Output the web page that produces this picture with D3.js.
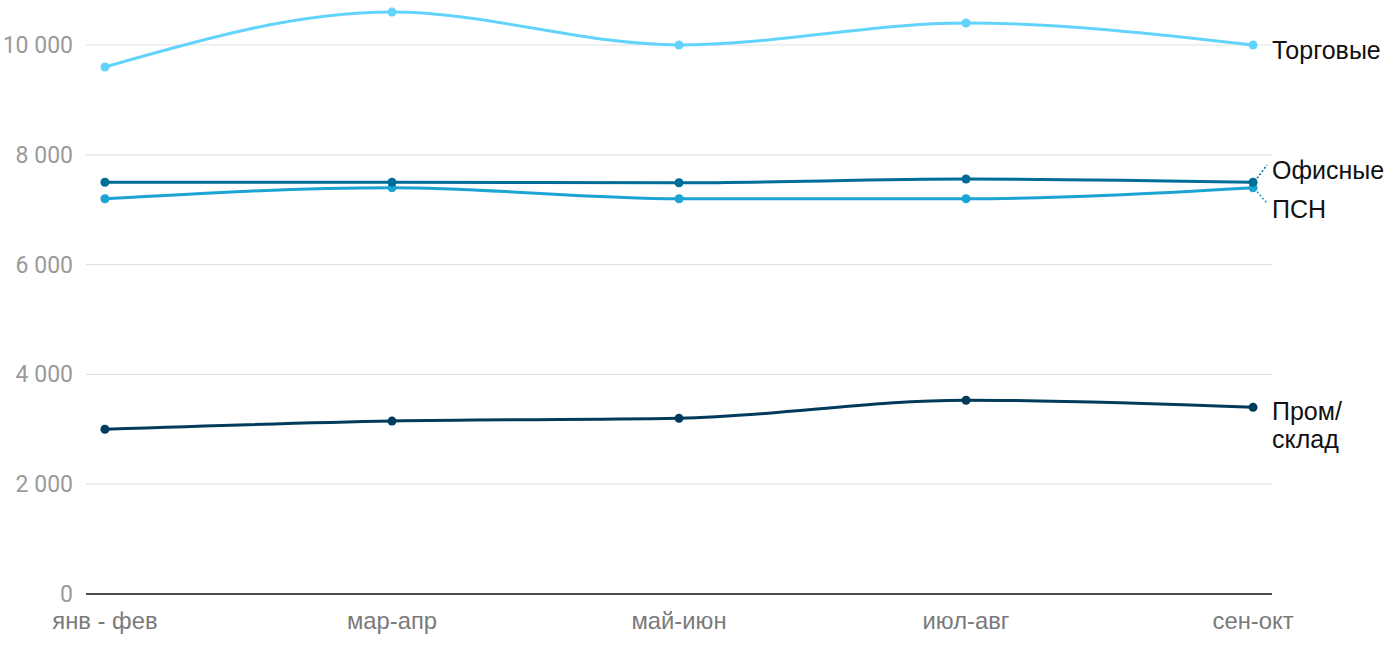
<!DOCTYPE html>
<html><head><meta charset="utf-8">
<script src="https://cdn.jsdelivr.net/npm/d3@7"></script>
<style>body{margin:0;background:#fff;font-family:Roboto,sans-serif}</style>
</head><body><svg id="c" width="1400" height="650"></svg>
<script>
const categories = ["янв - фев","мар-апр","май-июн","июл-авг","сен-окт"];
const torgovye = [9600,10600,10000,10400,10000];
const ofisnye = [7500,7500,7490,7560,7500];
const psn = [7200,7400,7200,7200,7400];
const promsklad = [3000,3150,3200,3530,3400];
const yTicks = [0,2000,4000,6000,8000,10000];
const seriesNames = ["Торговые","Офисные","ПСН","Пром/склад"];
const colors = ["#62d4fc","#006c98","#1ca4d2","#003b5c"];

const svg = d3.select("#c");
const x = d3.scalePoint().domain(categories).range([86,1272]).padding(0.066);
const y = d3.scaleLinear().domain([0,10000]).range([594,45]);
const fmt = v => d3.format(",")(v).replace(/,/g," ");
const lab = "'Liberation Sans', Arial, sans-serif";

svg.append("g").selectAll("line").data(yTicks.filter(d=>d>0)).join("line")
  .attr("x1",86).attr("x2",1272).attr("y1",d=>y(d)).attr("y2",d=>y(d))
  .attr("stroke","#e2e2e2").attr("stroke-width",1.2);
svg.append("line").attr("x1",86).attr("x2",1272).attr("y1",y(0)).attr("y2",y(0))
  .attr("stroke","#111").attr("stroke-width",1.6);
svg.append("g").selectAll("text").data(yTicks).join("text")
  .attr("x",73).attr("y",d=>y(d)).attr("dy","0.35em").attr("text-anchor","end")
  .attr("fill","#9a9a9a").attr("font-size",23).text(fmt);
svg.append("g").selectAll("text").data(categories).join("text")
  .attr("x",d=>x(d)).attr("y",629).attr("text-anchor","middle").attr("font-family",lab)
  .attr("fill","#7a7a7a").attr("font-size",23.8).text(d=>d);

const all = [torgovye,ofisnye,psn,promsklad];
const line = d3.line().x((d,i)=>x(categories[i])).y(d=>y(d)).curve(d3.curveMonotoneX);
[0,2,1,3].forEach(k=>{
  const g = svg.append("g");
  g.append("path").attr("d",line(all[k])).attr("fill","none").attr("stroke",colors[k]).attr("stroke-width",3);
  g.selectAll("circle").data(all[k]).join("circle")
    .attr("cx",(d,i)=>x(categories[i])).attr("cy",d=>y(d)).attr("r",4.5).attr("fill",colors[k]);
});

const lx = 1272;
const fs = 25;
const lastX = x(categories[4]);
const addLabel = (yy, txt) => svg.append("text").attr("x",lx).attr("y",yy).attr("dy","0.35em")
  .attr("font-size",fs).attr("font-family",lab).attr("fill","#111").text(txt);
addLabel(y(torgovye[4])+5, seriesNames[0]);
addLabel(170, seriesNames[1]);
addLabel(209, seriesNames[2]);
svg.append("line").attr("x1",lastX+4).attr("y1",y(ofisnye[4])-4).attr("x2",lastX+14).attr("y2",165)
  .attr("stroke",colors[1]).attr("stroke-width",1.5).attr("stroke-dasharray","2,2");
svg.append("line").attr("x1",lastX+4).attr("y1",y(psn[4])+4).attr("x2",lastX+14).attr("y2",203)
  .attr("stroke",colors[2]).attr("stroke-width",1.5).attr("stroke-dasharray","2,2");
const t = svg.append("text").attr("x",lx).attr("y",411).attr("dy","0.35em").attr("font-size",fs).attr("font-family",lab).attr("fill","#111");
t.append("tspan").attr("x",lx).text("Пром/");
t.append("tspan").attr("x",lx).attr("dy",28).text("склад");
</script></body></html>
